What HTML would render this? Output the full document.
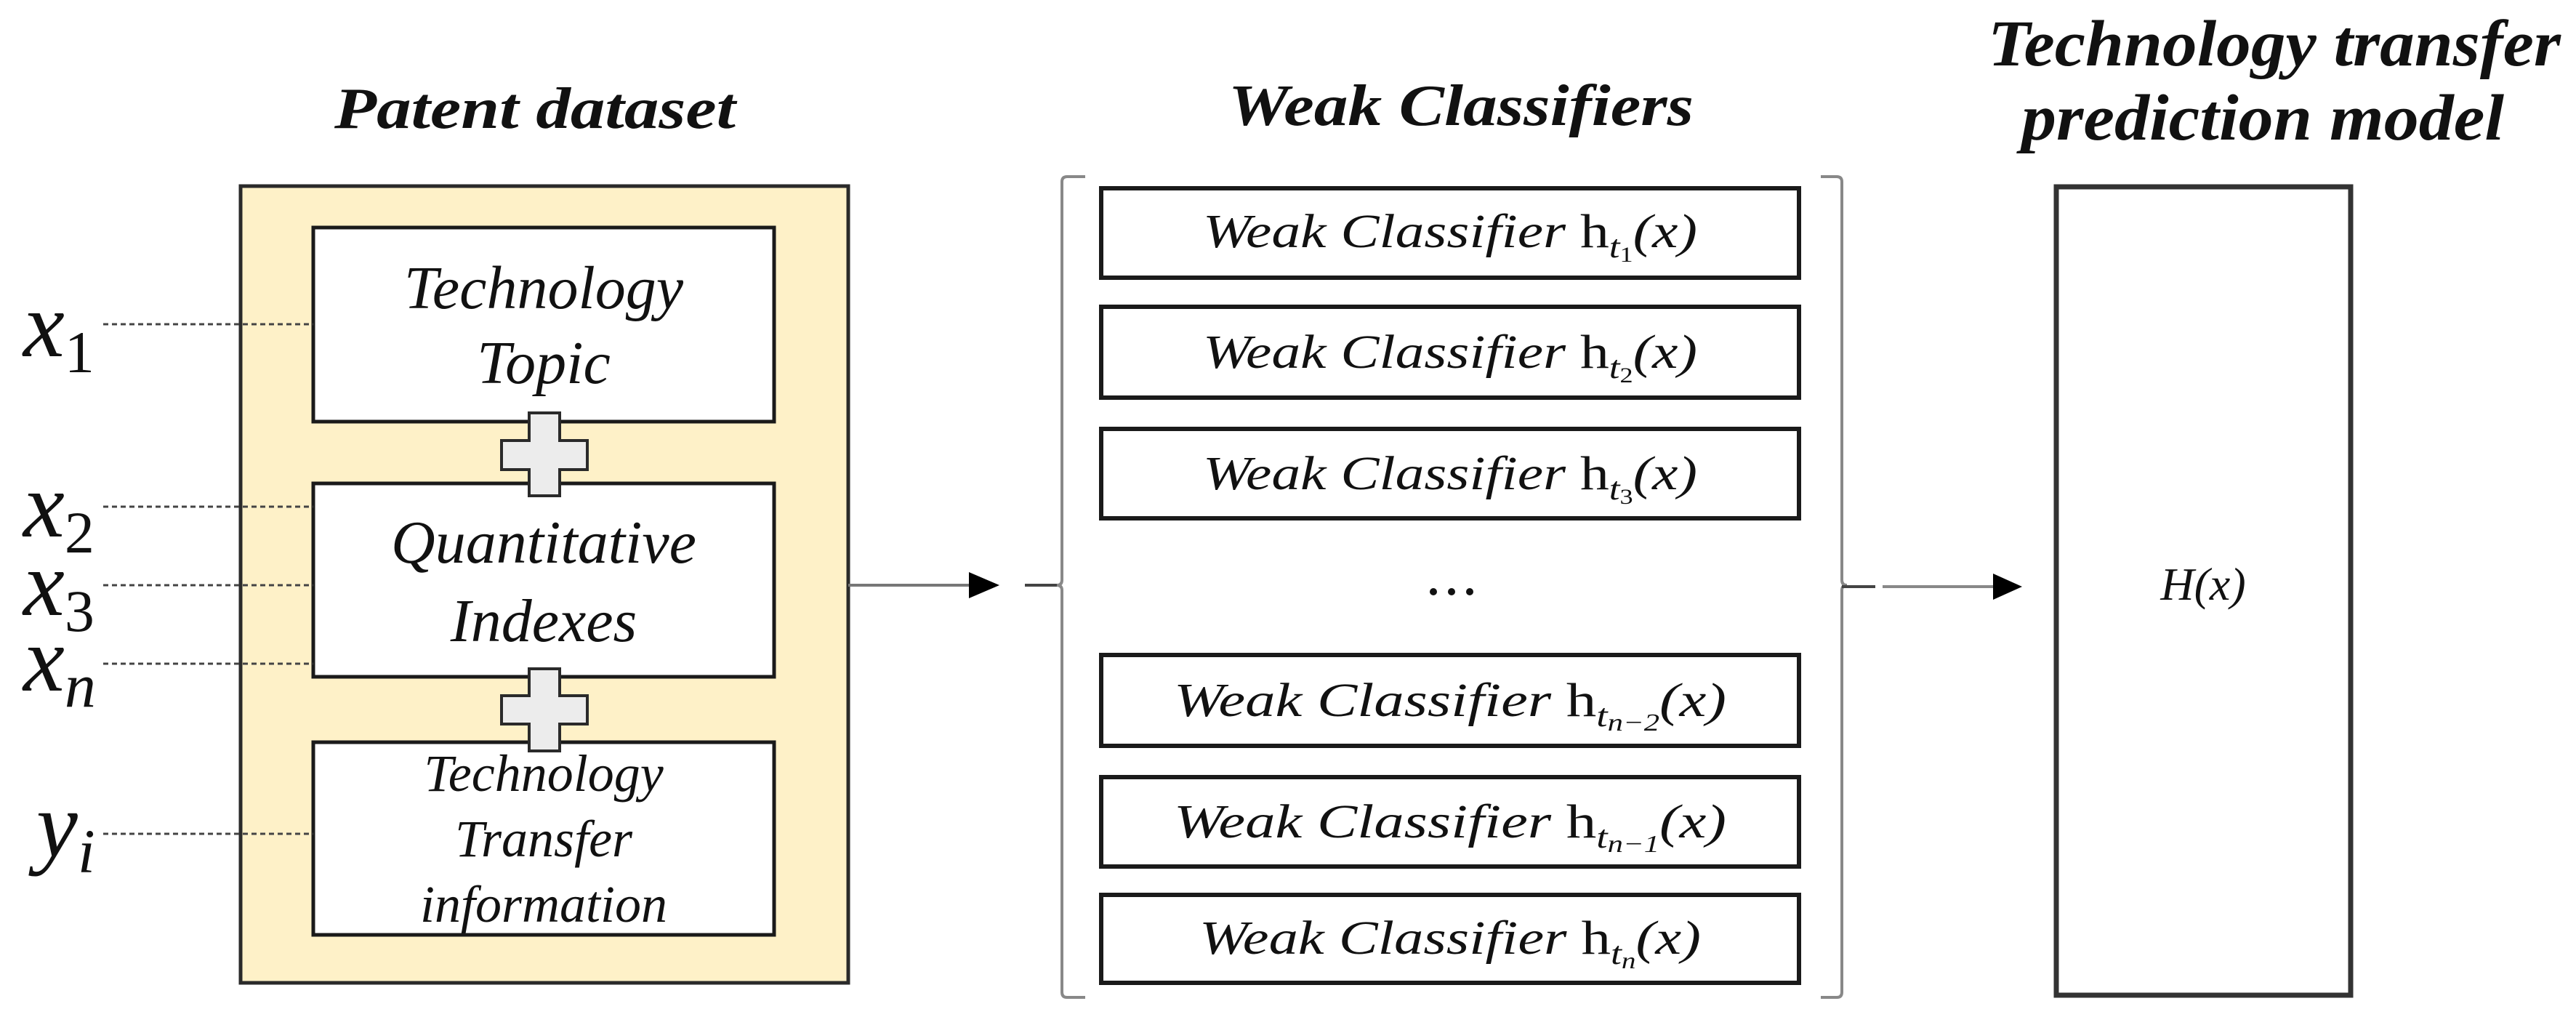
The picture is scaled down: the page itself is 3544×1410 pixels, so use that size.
<!DOCTYPE html>
<html><head><meta charset="utf-8"><style>
html,body{margin:0;padding:0;background:#fff;}
svg{display:block;}
text{font-family:"Liberation Serif",serif;font-style:italic;fill:#111;}
</style></head><body>
<svg width="3544" height="1410" viewBox="0 0 3544 1410" xmlns="http://www.w3.org/2000/svg">
<!-- Titles -->
<text x="736" y="176" font-size="80" font-weight="bold" text-anchor="middle" textLength="552" lengthAdjust="spacingAndGlyphs">Patent dataset</text>
<text x="2010" y="172" font-size="80" font-weight="bold" text-anchor="middle" textLength="640" lengthAdjust="spacingAndGlyphs">Weak Classifiers</text>
<text x="3129" y="90" font-size="90" font-weight="bold" text-anchor="middle" textLength="788" lengthAdjust="spacingAndGlyphs">Technology transfer</text>
<text x="3113" y="192" font-size="90" font-weight="bold" text-anchor="middle" textLength="664" lengthAdjust="spacingAndGlyphs">prediction model</text>

<!-- Patent dataset box -->
<rect x="331" y="256" width="836" height="1096" fill="#fef1c8" stroke="#2a2a2a" stroke-width="5"/>
<rect x="431" y="313" width="634" height="267" fill="#fff" stroke="#1a1a1a" stroke-width="5"/>
<rect x="431" y="665" width="634" height="266" fill="#fff" stroke="#1a1a1a" stroke-width="5"/>
<rect x="431" y="1021" width="634" height="265" fill="#fff" stroke="#1a1a1a" stroke-width="5"/>

<!-- plus signs -->
<path d="M728 568 H770 V606 H808 V646 H770 V682 H728 V646 H690 V606 H728 Z" fill="#ececec" stroke="#2a2a2a" stroke-width="4"/>
<path d="M728 920 H770 V957 H808 V996 H770 V1033 H728 V996 H690 V957 H728 Z" fill="#ececec" stroke="#2a2a2a" stroke-width="4"/>

<!-- inner text -->
<text x="748" y="424" font-size="84" text-anchor="middle">Technology</text>
<text x="748" y="527" font-size="84" text-anchor="middle">Topic</text>
<text x="748" y="774" font-size="84" text-anchor="middle">Quantitative</text>
<text x="748" y="882" font-size="84" text-anchor="middle">Indexes</text>
<text x="748" y="1088" font-size="72" text-anchor="middle">Technology</text>
<text x="748" y="1178" font-size="72" text-anchor="middle">Transfer</text>
<text x="748" y="1268" font-size="72" text-anchor="middle">information</text>

<!-- dashed lines -->
<g stroke="#444" stroke-width="3" stroke-dasharray="7,5">
<line x1="142" y1="446" x2="431" y2="446"/>
<line x1="142" y1="697" x2="431" y2="697"/>
<line x1="142" y1="805" x2="431" y2="805"/>
<line x1="142" y1="913" x2="431" y2="913"/>
<line x1="142" y1="1147" x2="431" y2="1147"/>
</g>
<!-- variable labels -->
<text x="32" y="490" font-size="128">x<tspan font-style="normal" font-size="82" dy="22">1</tspan></text>
<text x="32" y="738" font-size="128">x<tspan font-style="normal" font-size="82" dy="22">2</tspan></text>
<text x="32" y="846" font-size="128">x<tspan font-style="normal" font-size="82" dy="22">3</tspan></text>
<text x="32" y="950" font-size="128">x<tspan font-size="86" dy="22">n</tspan></text>
<text x="50" y="1178" font-size="128">y<tspan font-size="86" dy="22">i</tspan></text>

<!-- arrow 1 -->
<line x1="1167" y1="805" x2="1335" y2="805" stroke="#777" stroke-width="4"/>
<polygon points="1333,787 1375,805 1333,823" fill="#000"/>
<line x1="1410" y1="805" x2="1460" y2="805" stroke="#444" stroke-width="4"/>

<!-- left bracket -->
<path d="M1493 243 H1468 Q1461 243 1461 250 V798 Q1461 805 1454 805 Q1461 805 1461 812 V1365 Q1461 1372 1468 1372 H1493" fill="none" stroke="#888" stroke-width="4"/>
<!-- right bracket -->
<path d="M2505 243 H2527 Q2534 243 2534 250 V798 Q2534 805 2541 805 Q2534 805 2534 812 V1365 Q2534 1372 2527 1372 H2505" fill="none" stroke="#888" stroke-width="4"/>

<!-- weak classifier boxes -->
<g fill="#fff" stroke="#1a1a1a" stroke-width="6">
<rect x="1515" y="259" width="960" height="123"/>
<rect x="1515" y="422" width="960" height="125"/>
<rect x="1515" y="590" width="960" height="123"/>
<rect x="1515" y="901" width="960" height="125"/>
<rect x="1515" y="1069" width="960" height="123"/>
<rect x="1515" y="1231" width="960" height="121"/>
</g>
<g font-size="66" text-anchor="middle">
<text x="1995" y="340" textLength="680" lengthAdjust="spacingAndGlyphs">Weak Classifier <tspan font-style="normal">h</tspan><tspan font-size="44" dy="14">t</tspan><tspan font-size="30" dy="6" font-style="normal">1</tspan><tspan dy="-20">(x)</tspan></text>
<text x="1995" y="506" textLength="680" lengthAdjust="spacingAndGlyphs">Weak Classifier <tspan font-style="normal">h</tspan><tspan font-size="44" dy="14">t</tspan><tspan font-size="30" dy="6" font-style="normal">2</tspan><tspan dy="-20">(x)</tspan></text>
<text x="1995" y="673" textLength="680" lengthAdjust="spacingAndGlyphs">Weak Classifier <tspan font-style="normal">h</tspan><tspan font-size="44" dy="14">t</tspan><tspan font-size="30" dy="6" font-style="normal">3</tspan><tspan dy="-20">(x)</tspan></text>
<text x="1995" y="985" textLength="760" lengthAdjust="spacingAndGlyphs">Weak Classifier <tspan font-style="normal">h</tspan><tspan font-size="44" dy="14">t</tspan><tspan font-size="34" dy="6">n−2</tspan><tspan dy="-20">(x)</tspan></text>
<text x="1995" y="1152" textLength="760" lengthAdjust="spacingAndGlyphs">Weak Classifier <tspan font-style="normal">h</tspan><tspan font-size="44" dy="14">t</tspan><tspan font-size="34" dy="6">n−1</tspan><tspan dy="-20">(x)</tspan></text>
<text x="1995" y="1312" textLength="690" lengthAdjust="spacingAndGlyphs">Weak Classifier <tspan font-style="normal">h</tspan><tspan font-size="44" dy="14">t</tspan><tspan font-size="32" dy="6">n</tspan><tspan dy="-20">(x)</tspan></text>
</g>
<!-- dots -->
<circle cx="1972" cy="814" r="5" fill="#111"/>
<circle cx="1997" cy="814" r="5" fill="#111"/>
<circle cx="2022" cy="814" r="5" fill="#111"/>

<!-- arrow 2 -->
<line x1="2534" y1="807" x2="2580" y2="807" stroke="#444" stroke-width="4"/>
<line x1="2590" y1="807" x2="2745" y2="807" stroke="#888" stroke-width="4"/>
<polygon points="2742,789 2782,807 2742,825" fill="#000"/>

<!-- H box -->
<rect x="2829" y="257" width="405" height="1112" fill="#fff" stroke="#333" stroke-width="7"/>
<text x="3031" y="825" font-size="64" text-anchor="middle">H(x)</text>
</svg>
</body></html>
